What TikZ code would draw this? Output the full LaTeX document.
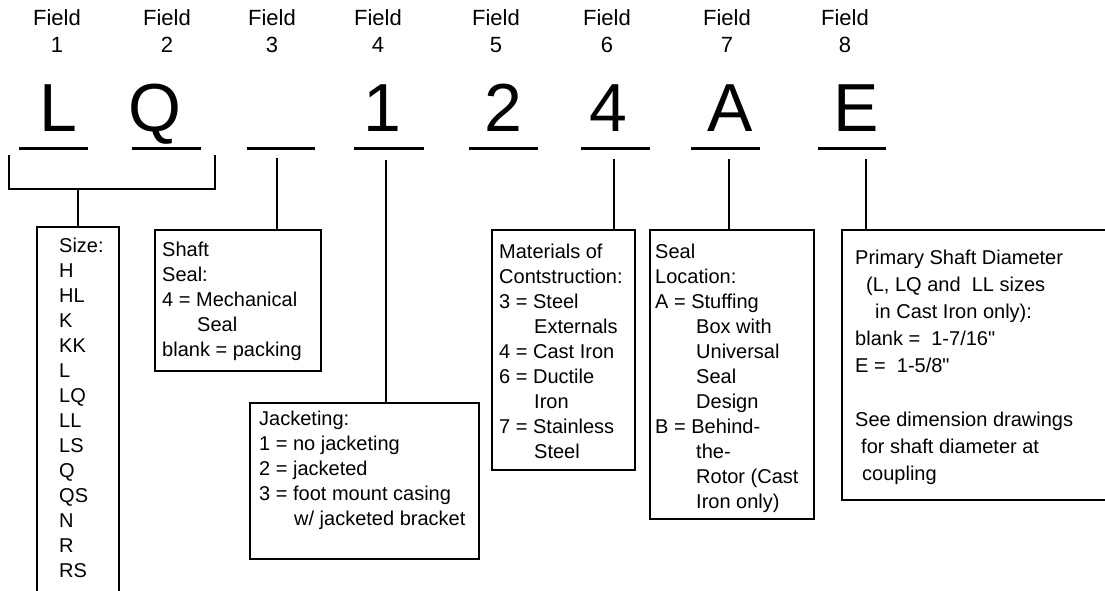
\documentclass[tikz,border=0pt]{standalone}
\usepackage{fontspec}
\setmainfont{Liberation Sans}[Ligatures=TeXOff]
\begin{document}
\begin{tikzpicture}[x=1pt,y=-1pt,
  fieldlbl/.style={anchor=base, inner sep=0pt, align=center, font=\fontsize{22}{27}\selectfont},
  bigch/.style={anchor=base, inner sep=0pt, font=\fontsize{68}{70}\selectfont},
  uline/.style={line width=3pt},
  stem/.style={line width=1.3pt},
  infobox/.style={draw, line width=1.8pt, anchor=north west, inner sep=0pt},
  body/.style={anchor=base west, inner sep=0pt, font=\fontsize{20}{25}\selectfont},
  bodyw/.style={anchor=base west, inner sep=0pt, font=\fontsize{20}{27}\selectfont}]
\clip (0,0) rectangle (1105,590);
\fill[white] (0,0) rectangle (1105,590);

% field labels
\node[fieldlbl] (f1) at (57,25) {\parbox[t]{60pt}{\centering Field\\1}};
\node[fieldlbl] (f2) at (167,25) {\parbox[t]{60pt}{\centering Field\\2}};
\node[fieldlbl] (f3) at (272,25) {\parbox[t]{60pt}{\centering Field\\3}};
\node[fieldlbl] (f4) at (378,25) {\parbox[t]{60pt}{\centering Field\\4}};
\node[fieldlbl] (f5) at (496,25) {\parbox[t]{60pt}{\centering Field\\5}};
\node[fieldlbl] (f6) at (607,25) {\parbox[t]{60pt}{\centering Field\\6}};
\node[fieldlbl] (f7) at (727,25) {\parbox[t]{60pt}{\centering Field\\7}};
\node[fieldlbl] (f8) at (845,25) {\parbox[t]{60pt}{\centering Field\\8}};

% big characters
\node[bigch] (c1) at (58.5,131) {L};
\node[bigch] (c2) at (154.5,131) {Q};
\node[bigch] (c4) at (382.5,131) {1};
\node[bigch] (c5) at (503.5,131) {2};
\node[bigch] (c6) at (608.5,131) {4};
\node[bigch] (c7) at (730,131) {A};
\node[bigch] (c8) at (856.5,131) {E};

% underlines
\draw[uline] (19,148) -- (88,148);
\draw[uline] (132,148) -- (201,148);
\draw[uline] (247,148) -- (315,148);
\draw[uline] (354,148) -- (424,148);
\draw[uline] (469,148) -- (538,148);
\draw[uline] (581,148) -- (650,148);
\draw[uline] (691,148) -- (760,148);
\draw[uline] (818,148) -- (886,148);

% boxes
\node[infobox, minimum width=82pt, minimum height=380pt] (bsize) at (36,226) {};
\node[infobox, minimum width=166pt, minimum height=141pt] (bshaft) at (154,229) {};
\node[infobox, minimum width=229pt, minimum height=156pt] (bjack) at (249,402) {};
\node[infobox, minimum width=143pt, minimum height=240pt] (bmat) at (491,229) {};
\node[infobox, minimum width=164pt, minimum height=289pt] (bseal) at (649,229) {};
\node[infobox, minimum width=280pt, minimum height=270pt] (bprim) at (841,229) {};

% bracket for fields 1 and 2
\coordinate (brl) at (9,155);
\coordinate (brr) at (215,155);
\coordinate (brs) at (78,189);
\draw[stem] (brl) -- (brl |- brs) -- (brr |- brs) -- (brr);
\draw[stem] (brs) -- (brs |- bsize.north);

% stems
\coordinate (s3) at (277,158);
\coordinate (s4) at (386,160);
\coordinate (s6) at (614,159);
\coordinate (s7) at (729,159);
\coordinate (s8) at (866,159);
\draw[stem] (s3) -- (s3 |- bshaft.north);
\draw[stem] (s4) -- (s4 |- bjack.north);
\draw[stem] (s6) -- (s6 |- bmat.north);
\draw[stem] (s7) -- (s7 |- bseal.north);
\draw[stem] (s8) -- (s8 |- bprim.north);

% texts
\node[body] (tsize) at (59,252) {\parbox[t]{55pt}{\raggedright Size:\\H\\HL\\K\\KK\\L\\LQ\\LL\\LS\\Q\\QS\\N\\R\\RS}};
\node[body] (tshaft) at (162,256) {\parbox[t]{160pt}{\raggedright Shaft\\Seal:\\4 = Mechanical\\\hspace*{35pt}Seal\\blank = packing}};
\node[body] (tjack) at (259,425) {\parbox[t]{220pt}{\raggedright Jacketing:\\1 = no jacketing\\2 = jacketed\\3 = foot mount casing\\\hspace*{35pt}w/ jacketed bracket}};
\node[body] (tmat) at (499,258) {\parbox[t]{140pt}{\raggedright Materials of\\Contstruction:\\3 = Steel\\\hspace*{35pt}Externals\\4 = Cast Iron\\6 = Ductile\\\hspace*{35pt}Iron\\7 = Stainless\\\hspace*{35pt}Steel}};
\node[body] (tseal) at (655,258) {\parbox[t]{160pt}{\raggedright Seal\\Location:\\A = Stuffing\\\hspace*{41pt}Box with\\\hspace*{41pt}Universal\\\hspace*{41pt}Seal\\\hspace*{41pt}Design\\B = Behind-\\\hspace*{41pt}the-\\\hspace*{41pt}Rotor (Cast\\\hspace*{41pt}Iron only)}};
\node[bodyw] (tprim) at (855,264) {\parbox[t]{260pt}{\raggedright Primary Shaft Diameter\\\hspace*{11pt}(L, LQ and\ \ LL sizes\\\hspace*{20pt}in Cast Iron only):\\blank =\ \ 1-7/16"\\E =\ \ 1-5/8"\\\mbox{}\\See dimension drawings\\\hspace*{6pt}for shaft diameter at\\\hspace*{7pt}coupling}};
\end{tikzpicture}
\end{document}
